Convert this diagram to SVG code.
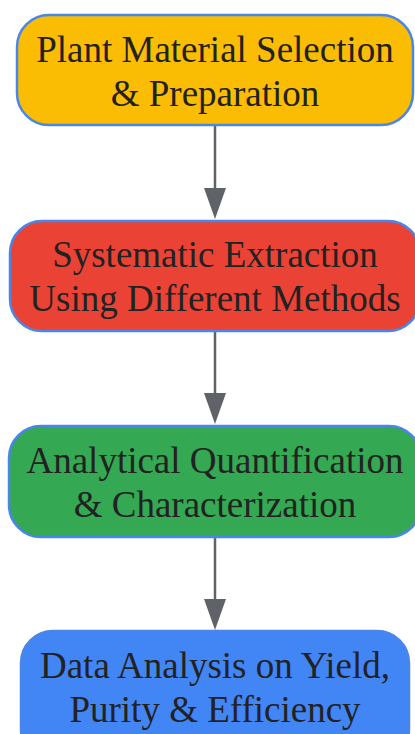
<svg xmlns="http://www.w3.org/2000/svg" width="415" height="734" viewBox="0 0 415 734">
<defs>
<style>
.node rect{stroke:#4a86e8;stroke-width:2.5}
.node text{font-family:"Liberation Serif","Times New Roman",serif;font-size:37px;fill:#222;text-anchor:middle}
.edge{stroke:#5f6368;stroke-width:2.5;fill:none}
.head{fill:#5f6368}
</style>
</defs>
<rect width="415" height="734" fill="#fff"/>
<g id="connectors">
<line class="edge" x1="215" y1="125" x2="215" y2="188"/>
<path class="head" d="M204,188 L226,188 L215,219 Z"/>
<line class="edge" x1="215" y1="331" x2="215" y2="393"/>
<path class="head" d="M204,393 L226,393 L215,424 Z"/>
<line class="edge" x1="215" y1="537" x2="215" y2="599"/>
<path class="head" d="M204,599 L226,599 L215,630 Z"/>
</g>
<g id="n1" class="node">
<rect x="17" y="15" width="396" height="110" rx="32" fill="#fbbc04"/>
<text x="215" y="62">Plant Material Selection</text>
<text x="215" y="106">&amp; Preparation</text>
</g>
<g id="n2" class="node">
<rect x="10" y="221" width="410" height="110" rx="32" fill="#ea4335"/>
<text x="215" y="267">Systematic Extraction</text>
<text x="215" y="311">Using Different Methods</text>
</g>
<g id="n3" class="node">
<rect x="9" y="426" width="412" height="111" rx="32" fill="#34a853"/>
<text x="215" y="473">Analytical Quantification</text>
<text x="215" y="517">&amp; Characterization</text>
</g>
<g id="n4" class="node">
<rect x="21" y="631" width="388" height="130" rx="32" fill="#4285f4" stroke="#4285f4"/>
<text x="215" y="678">Data Analysis on Yield,</text>
<text x="215" y="722">Purity &amp; Efficiency</text>
</g>
</svg>
